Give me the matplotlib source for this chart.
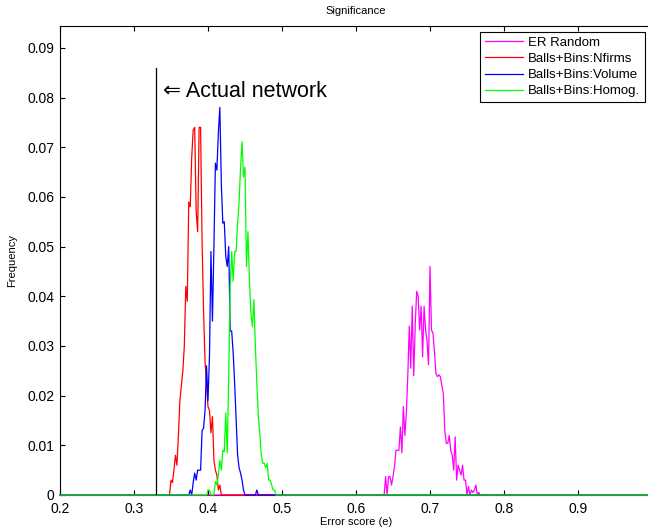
import numpy as np
import matplotlib
matplotlib.use("Agg")
import matplotlib.pyplot as plt

plt.rcParams['font.family'] = ['Liberation Sans', 'DejaVu Sans']

# shared histogram grid (bin centres)
x_start, x_step, n_bins = 0.2, 0.002, 401

# ER Random (starts at 0.636)
er_start = 0.636
er_vals = [0, 0, 0.0037, 0.0, 0.0037, 0.0037, 0.002, 0.0037, 0.0057, 0.009,
           0.009, 0.009, 0.0137, 0.0085, 0.0178, 0.012, 0.0164, 0.024, 0.034, 0.0255,
           0.038, 0.024, 0.034, 0.041, 0.040, 0.0332, 0.038, 0.0278, 0.038, 0.0332,
           0.031, 0.0262, 0.046, 0.0332, 0.0326, 0.029, 0.0245, 0.0238, 0.0242, 0.0238,
           0.022, 0.0205, 0.013, 0.0104, 0.0104, 0.012, 0.009, 0.008, 0.005, 0.0117,
           0.003, 0.006, 0.005, 0.004, 0.006, 0.003, 0.003, 0.0, 0.0017, 0.0,
           0.001, 0.0005, 0.001, 0.002, 0.0, 0.0005, 0]

# Balls+Bins:Nfirms (starts at 0.346)
nf_start = 0.346
nf_vals = [0, 0, 0.003, 0.0025, 0.005, 0.008, 0.006, 0.012, 0.019, 0.022,
           0.025, 0.030, 0.042, 0.039, 0.059, 0.058, 0.068, 0.0735, 0.074, 0.057,
           0.053, 0.074, 0.074, 0.051, 0.037, 0.027, 0.022, 0.0178, 0.017, 0.0125,
           0.0158, 0.007, 0.005, 0.004, 0.001, 0.002, 0.0, 0.0]

# Balls+Bins:Volume (starts at 0.374)
vol_start = 0.374
vol_vals = [0, 0.001, 0.0, 0.0025, 0.0044, 0.003, 0.005, 0.005, 0.005, 0.013,
            0.0134, 0.017, 0.026, 0.019, 0.028, 0.049, 0.035, 0.050, 0.0668, 0.0654,
            0.0728, 0.078, 0.0627, 0.0547, 0.055, 0.048, 0.046, 0.050, 0.033, 0.033,
            0.0286, 0.0225, 0.015, 0.008, 0.0055, 0.0044, 0.003, 0.001, 0,
            0, 0, 0, 0, 0, 0, 0, 0.001, 0]

# Balls+Bins:Homog. (starts at 0.398)
hom_start = 0.398
hom_vals = [0, 0.001, 0.001, 0, 0, 0.0, 0.0027, 0.002, 0.004, 0.007,
            0.005, 0.009, 0.0087, 0.0165, 0.0085, 0.024, 0.042, 0.049, 0.043, 0.049,
            0.049, 0.0547, 0.059, 0.066, 0.0711, 0.064, 0.066, 0.046, 0.053, 0.0433,
            0.0366, 0.0339, 0.0393, 0.030, 0.0225, 0.0158, 0.0125, 0.008, 0.0064, 0.0064,
            0.0055, 0.0064, 0.003, 0.003, 0.002, 0.001, 0.001, 0]

labels = ["ER Random", "Balls+Bins:Nfirms", "Balls+Bins:Volume", "Balls+Bins:Homog."]
colors = ["#ff00ff", "#ff0000", "#0000ff", "#00ff00"]

actual_x = 0.33
actual_top = 0.086

xticks = [0.2, 0.3, 0.4, 0.5, 0.6, 0.7, 0.8, 0.9]
xticklabels = ["0.2", "0.3", "0.4", "0.5", "0.6", "0.7", "0.8", "0.9"]
yticks = [0, 0.01, 0.02, 0.03, 0.04, 0.05, 0.06, 0.07, 0.08, 0.09]
yticklabels = ["0", "0.01", "0.02", "0.03", "0.04", "0.05", "0.06", "0.07", "0.08", "0.09"]

x = x_start + x_step * np.arange(n_bins)


def full_series(start, vals):
    y = np.zeros(n_bins)
    i0 = int(round((start - x_start) / x_step))
    y[i0:i0 + len(vals)] = vals
    return y


series = [full_series(er_start, er_vals), full_series(nf_start, nf_vals),
          full_series(vol_start, vol_vals), full_series(hom_start, hom_vals)]

fig = plt.figure(figsize=(6.48, 5.31), dpi=100)
W, H = 648, 531
ax = fig.add_axes([60 / W, 36 / H, 592 / W, 469 / H])

for yv, c, lab in zip(series, colors, labels):
    ax.plot(x, yv, color=c, lw=0.9, label=lab, zorder=3, clip_on=False)

ax.plot([actual_x, actual_x], [0, actual_top], color="black", lw=0.9, zorder=3)
ax.text(0.3392, 0.0813, "\u21d0 Actual network", fontsize=15.5, va="center", ha="left")

ax.set_xlim(0.2, 1.0)
ax.set_ylim(0, 0.0944)
ax.set_xticks(xticks)
ax.set_xticklabels(xticklabels)
ax.set_yticks(yticks)
ax.set_yticklabels(yticklabels)
ax.tick_params(direction="in", top=True, right=False, length=3.5, width=0.8,
               labelsize=10)
ax.tick_params(axis="x", pad=5)
ax.tick_params(axis="y", pad=4)
for s in ax.spines.values():
    s.set_linewidth(0.8)

ax.set_title("Significance", fontsize=8, pad=9)
ax.set_xlabel("Error score (e)", fontsize=8, labelpad=1)
ax.set_ylabel("Frequency", fontsize=8, labelpad=7)

leg = ax.legend(loc="upper right", bbox_to_anchor=(645 / W, 1 - 32 / H),
                bbox_transform=fig.transFigure, borderaxespad=0, fontsize=9.5,
                handlelength=2.9, labelspacing=0.3, fancybox=False,
                edgecolor="black", framealpha=1, borderpad=0.35, handletextpad=0.4)
leg.get_frame().set_linewidth(0.8)

fig.savefig("out.png", dpi=100)
